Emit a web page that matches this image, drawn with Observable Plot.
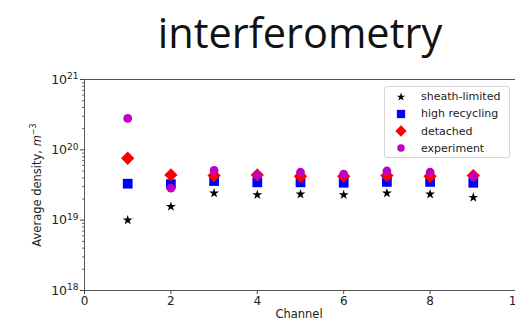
<!DOCTYPE html>
<html><head><meta charset="utf-8">
<script src="https://cdn.jsdelivr.net/npm/d3@7"></script>
<script src="https://cdn.jsdelivr.net/npm/@observablehq/plot@0.6"></script>
<style>
html,body{margin:0;padding:0;background:#fff;}
body{width:515px;height:322px;overflow:hidden;position:relative;font-family:"DejaVu Sans",sans-serif;}
#title{position:absolute;left:0;top:0;width:600px;height:70px;text-align:center;font-family:"Open Sans",sans-serif;font-size:41.5px;line-height:64px;color:#111;}
#chart{position:absolute;left:0;top:70px;width:540px;}
#chart svg{max-width:none !important;}
#legend{position:absolute;left:384px;top:86px;width:124px;height:70px;border:1px solid #d6d6d6;border-radius:3px;background:#fff;font-size:11px;color:#222;}
.row{position:absolute;left:0;height:17px;display:flex;align-items:center;}
.row svg{position:absolute;left:8px;}
.row span{position:absolute;left:36px;white-space:nowrap;}
</style>
</head><body>
<div id="title">interferometry</div>
<div id="chart"></div>
<div id="legend"></div>
<script>
const channels = [1, 2, 3, 4, 5, 6, 7, 8, 9];
const sheathLimited = [1.0e19, 1.56e19, 2.42e19, 2.29e19, 2.34e19, 2.29e19, 2.42e19, 2.34e19, 2.1e19];
const highRecycling = [3.3e19, 3.25e19, 3.6e19, 3.45e19, 3.45e19, 3.4e19, 3.5e19, 3.5e19, 3.4e19];
const detached      = [7.6e19, 4.4e19, 4.3e19, 4.4e19, 4.2e19, 4.2e19, 4.3e19, 4.2e19, 4.3e19];
const experiment    = [2.8e20, 2.85e19, 5.1e19, 4.35e19, 4.8e19, 4.5e19, 5.0e19, 4.8e19, 4.2e19];
const seriesNames = ["sheath-limited", "high recycling", "detached", "experiment"];
const xTicks = [0, 2, 4, 6, 8, 10];
const yMajor = [1e18, 1e19, 1e20, 1e21];
const yMajorExp = ["18", "19", "20", "21"];

const series = [
  {name: seriesNames[0], values: sheathLimited, symbol: "star", fill: "#000000", r: 3.1},
  {name: seriesNames[1], values: highRecycling, symbol: "square", fill: "#0000ff", r: 5.5},
  {name: seriesNames[2], values: detached, symbol: "diamond2", fill: "#ff0000", r: 6.0},
  {name: seriesNames[3], values: experiment, symbol: "circle", fill: "#bf00bf", r: 4.4}
];

const yMinor = [];
for (const p of [18, 19, 20]) for (let k = 2; k <= 9; k++) yMinor.push(k * Math.pow(10, p));

const marks = [
  Plot.axisX({ticks: xTicks, tickSize: 4, tickPadding: 2, fontSize: 12, label: null, stroke: "#444", color: "#222"}),
  Plot.axisY({ticks: yMinor, tickSize: 2, tickFormat: () => "", label: null, stroke: "#666"}),
  Plot.axisY({ticks: yMajor, tickSize: 4, tickPadding: 2, fontSize: 12.5, label: null, stroke: "#444", color: "#222",
    tickFormat: d => "10^" + yMajorExp[yMajor.indexOf(d)]}),
  Plot.frame({stroke: "#555", strokeWidth: 1})
];
for (const s of series) {
  marks.push(Plot.dot(channels.map((c, i) => ({x: c, y: s.values[i]})), {
    x: "x", y: "y", symbol: () => s.symbol, fill: s.fill, r: s.r, stroke: "none"
  }));
}

const plot = Plot.plot({
  width: 540, height: 252,
  marginLeft: 84, marginRight: 24, marginTop: 9, marginBottom: 32,
  style: {fontFamily: "DejaVu Sans, sans-serif", background: "transparent", overflow: "visible", maxWidth: "none"},
  x: {domain: [0, 10]},
  y: {type: "log", domain: [1e18, 1e21]},
  symbol: {type: "identity"},
  marks
});
document.getElementById("chart").appendChild(plot);

// superscript exponents on y tick labels
const svg = d3.select(plot);
svg.selectAll("text").each(function() {
  const t = d3.select(this);
  const txt = t.text();
  const m = /^10\^(\d+)$/.exec(txt);
  if (m) {
    t.text("");
    t.append("tspan").text("10");
    t.append("tspan").attr("font-size", 9).attr("dy", "-0.45em").text(m[1]);
  }
});

// axis titles
svg.append("text").attr("x", 299).attr("y", 248).attr("text-anchor", "middle")
  .attr("font-size", 11.5).attr("fill", "#222").text("Channel");
const yl = svg.append("text").attr("transform", "translate(41,115) rotate(-90)")
  .attr("text-anchor", "middle").attr("font-size", 11.5).attr("fill", "#222");
yl.append("tspan").text("Average density, ");
yl.append("tspan").attr("font-style", "italic").text("m");
yl.append("tspan").attr("font-size", 8).attr("dy", -5).text("−3");

// legend
const leg = d3.select("#legend");
series.forEach((s, i) => {
  const row = leg.append("div").attr("class", "row").style("top", (1 + i * 17.3) + "px").style("width", "124px");
  const sv = row.append("svg").attr("width", 16).attr("height", 16);
  const symMap = {star: d3.symbolStar, square: d3.symbolSquare, diamond2: d3.symbolDiamond2, circle: d3.symbolCircle};
  const rr = s.r * 0.85;
  sv.append("path").attr("transform", "translate(8,8)")
    .attr("d", d3.symbol(symMap[s.symbol], rr * rr * Math.PI)()).attr("fill", s.fill);
  row.append("span").text(s.name);
});
</script>
</body></html>
